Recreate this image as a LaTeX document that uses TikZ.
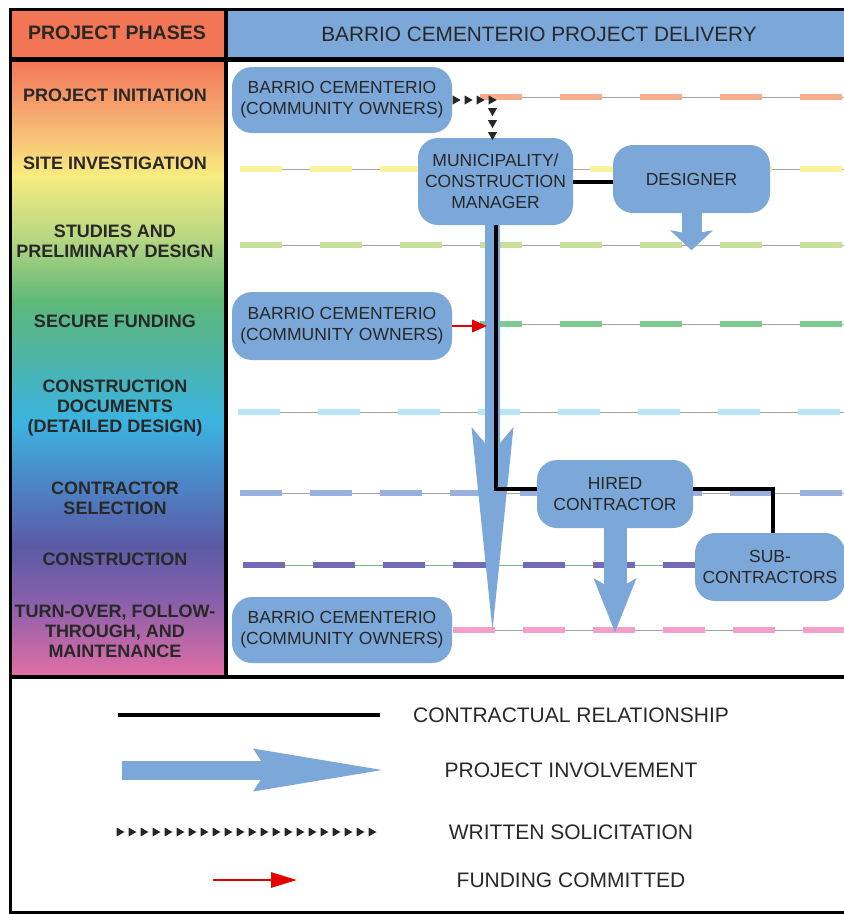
\documentclass[tikz,border=0pt]{standalone}
\usepackage{fontspec}
\setmainfont{Liberation Sans}
\usepackage{tikz}
\usetikzlibrary{arrows.meta,decorations.markings}
\definecolor{boxblue}{RGB}{123,167,217}
\definecolor{phasered}{RGB}{242,117,85}
\definecolor{inkgray}{RGB}{40,40,40}
\definecolor{thingray}{RGB}{165,165,165}
\definecolor{dsalmon}{RGB}{247,172,140}
\definecolor{dyellow}{RGB}{249,243,158}
\definecolor{dlgreen}{RGB}{200,223,158}
\definecolor{dgreen}{RGB}{125,201,142}
\definecolor{dlblue}{RGB}{186,228,248}
\definecolor{dperi}{RGB}{153,175,221}
\definecolor{dpurple}{RGB}{114,106,180}
\definecolor{dpink}{RGB}{242,160,201}
\definecolor{thingreen}{RGB}{110,185,135}
\definecolor{rb0}{RGB}{242,118,88}
\definecolor{rb1}{RGB}{246,165,110}
\definecolor{rb2}{RGB}{248,236,128}
\definecolor{rb3}{RGB}{180,213,130}
\definecolor{rb4}{RGB}{95,185,120}
\definecolor{rb5}{RGB}{75,180,170}
\definecolor{rb6}{RGB}{60,180,225}
\definecolor{rb7}{RGB}{75,135,200}
\definecolor{rb8}{RGB}{90,90,165}
\definecolor{rb9}{RGB}{135,95,170}
\definecolor{rb10}{RGB}{228,110,165}

\begin{document}
\begin{tikzpicture}[x=1pt, y=-1pt,
    party/.style={fill=boxblue, rounded corners=20pt, text=inkgray, align=center, inner sep=0pt,
        font=\fontsize{17.5}{21}\selectfont},
    phase/.style={text=inkgray, align=center, font=\bfseries\fontsize{18}{20}\selectfont},
    legendtext/.style={text=inkgray, font=\fontsize{21}{24}\selectfont},
    contract/.style={draw=black, line width=4pt},
    involve/.style={draw=boxblue, line width=#1},
    funding/.style={draw=red!90!black, line width=2.8pt, -{Triangle[length=15pt,width=12pt]}},
    solicit/.style={decorate, decoration={markings,
        mark=between positions 0 and 1 step 12pt with {\fill[black!85] (-3.5pt,-4.5pt) -- (4.5pt,0pt) -- (-3.5pt,4.5pt) -- cycle;}}},
    phaseline/.style={line width=6pt, dash pattern=on 42pt off #1}
]
    \useasboundingbox (0,0) rectangle (844,914);

    % Header
    \fill[phasered] (10,9) rectangle (226,59);
    \fill[boxblue] (226,9) rectangle (860,59);
    \node[text=inkgray, font=\bfseries\fontsize{19.5}{22}\selectfont] (phasehead) at (117,33) {PROJECT PHASES};
    \node[text=inkgray, font=\fontsize{20.8}{24}\selectfont] (deliveryhead) at (539,34) {BARRIO CEMENTERIO PROJECT DELIVERY};

    % Rainbow column
    \foreach \ya/\yb/\ca/\cb in {59/110/rb0/rb1, 110/175/rb1/rb2, 175/240/rb2/rb3, 240/300/rb3/rb4,
        300/360/rb4/rb5, 360/420/rb5/rb6, 420/480/rb6/rb7, 480/545/rb7/rb8, 545/600/rb8/rb9, 600/677/rb9/rb10}
        \shade[top color=\ca, bottom color=\cb] (10,\ya) rectangle (226,\yb+1);

    % Frame
    \draw[line width=3pt] (10,9) -- (860,9);
    \draw[line width=3pt] (10,8) -- (10,912) -- (860,912);
    \draw[line width=4.5pt] (10,59.5) -- (860,59.5);
    \draw[line width=4pt] (226,8) -- (226,677);
    \draw[line width=4.5pt] (10,677) -- (860,677);

    % Phases
    \node[phase] (initiation) at (115,95) {PROJECT INITIATION};
    \node[phase] (siteinv) at (115,163) {SITE INVESTIGATION};
    \node[phase] (studies) at (115,241) {STUDIES AND\\PRELIMINARY DESIGN};
    \node[phase] (funding) at (115,321) {SECURE FUNDING};
    \node[phase] (documents) at (115,408) {CONSTRUCTION\\DOCUMENTS\\(DETAILED DESIGN)};
    \node[phase] (selection) at (115,498) {CONTRACTOR\\SELECTION};
    \node[phase] (construction) at (115,559) {CONSTRUCTION};
    \node[phase] (turnover) at (115,631) {TURN-OVER, FOLLOW-\\THROUGH, AND\\MAINTENANCE};

    % Phase lines
    \foreach \y/\xa/\col/\gap/\thin in {97/480/dsalmon/38/thingray, 169/240/dyellow/28/thingray,
        245/240/dlgreen/38/thingray, 324/480/dgreen/38/thingray, 412/238/dlblue/38/thingray,
        493/240/dperi/28/thingray, 565/243/dpurple/28/thingreen, 630/453/dpink/28/thingray} {
        \draw[\thin, line width=1pt] (\xa,\y) -- (860,\y);
        \draw[\col, phaseline=\gap pt] (\xa,\y) -- (860,\y);
    }

    % Parties
    \node[party, minimum width=220pt, minimum height=66pt] (owners1) at (342,100) {BARRIO CEMENTERIO\\(COMMUNITY OWNERS)};
    \node[party, minimum width=155pt, minimum height=87pt] (mcm) at (495.5,181.5) {MUNICIPALITY/\\CONSTRUCTION\\MANAGER};
    \node[party, minimum width=157pt, minimum height=68pt] (designer) at (691.5,179) {DESIGNER};
    \node[party, minimum width=220pt, minimum height=68pt] (owners2) at (342,326) {BARRIO CEMENTERIO\\(COMMUNITY OWNERS)};
    \node[party, minimum width=156pt, minimum height=68pt] (hired) at (615,494) {HIRED\\CONTRACTOR};
    \node[party, minimum width=150pt, minimum height=68pt] (sub) at (770,567) {SUB-\\CONTRACTORS};
    \node[party, minimum width=220pt, minimum height=66pt] (owners3) at (342,630) {BARRIO CEMENTERIO\\(COMMUNITY OWNERS)};

    % Project involvement
    \coordinate (invtop) at ([xshift=-3pt]mcm.south);
    \draw[involve=15pt, -{Stealth[length=203pt,width=42pt,inset=25pt,line width=0pt]}] (invtop) -- (invtop |- owners3.east);
    \draw[involve=20pt, -{Stealth[length=20pt,width=43pt,inset=4pt,line width=0pt]}] (designer.south) -- ++(0,37);
    \draw[involve=23pt, -{Stealth[length=54pt,width=43pt,inset=12pt,line width=0pt]}] (hired.south) -- ++(0,104);

    % Contracts
    \draw[contract] (mcm.east) -- (mcm.east -| designer.west);
    \draw[contract] (mcm.south) |- ([yshift=5pt]hired.west);
    \draw[contract] ([yshift=5pt]hired.east) -| ([xshift=3pt]sub.north);

    % Solicitation and funding
    \path[solicit] ([xshift=4pt]owners1.east) -| ([xshift=-3pt]mcm.north);
    \draw[funding] (owners2.east) -- ++(35,0);

    % Legend
    \coordinate (conL) at (118,715);
    \coordinate (conR) at (380,715);
    \draw[contract, line width=3.5pt] (conL) -- (conR);
    \node[legendtext] (conlabel) at (571,715) {CONTRACTUAL RELATIONSHIP};

    \coordinate (invL) at (122,770);
    \coordinate (invR) at (382,770);
    \draw[involve=19pt, -{Stealth[length=129pt,width=43pt,inset=14pt,line width=0pt]}] (invL) -- (invR);
    \node[legendtext] (invlabel) at (571,770) {PROJECT INVOLVEMENT};

    \coordinate (solL) at (120,832);
    \coordinate (solR) at (382,832);
    \path[solicit] (solL) -- (solR);
    \node[legendtext] (sollabel) at (571,832) {WRITTEN SOLICITATION};

    \coordinate (fundL) at (213,880);
    \coordinate (fundR) at (297,880);
    \draw[funding, -{Triangle[length=26pt,width=15pt]}] (fundL) -- (fundR);
    \node[legendtext] (fundlabel) at (571,880) {FUNDING COMMITTED};
\end{tikzpicture}
\end{document}
